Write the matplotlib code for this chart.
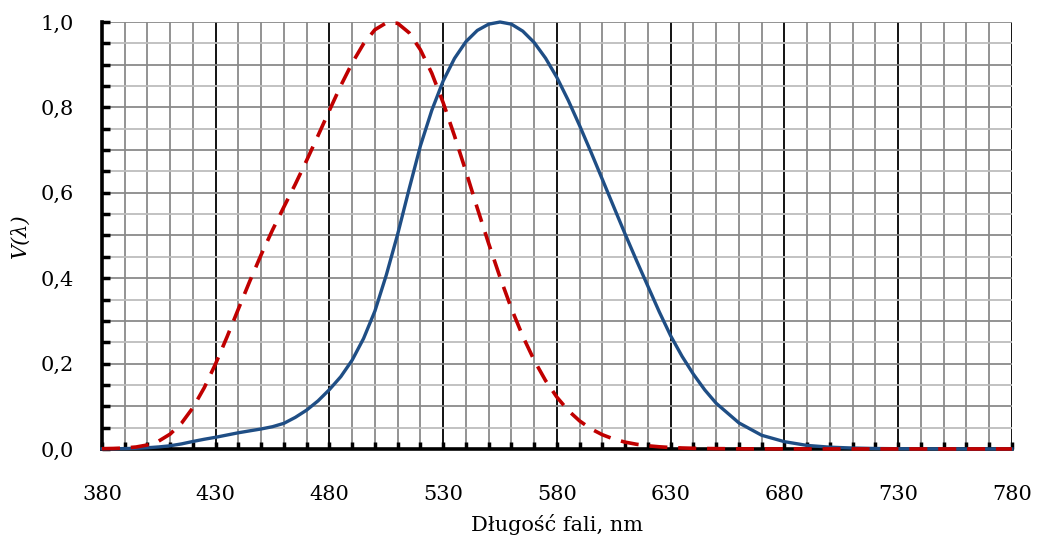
import numpy as np
import matplotlib.pyplot as plt
from matplotlib.ticker import MultipleLocator, FuncFormatter

# Długości fal (nm)
dlugosc = [380, 385, 390, 395, 400, 405, 410, 415, 420, 425, 430, 435, 440, 445,
           450, 455, 460, 465, 470, 475, 480, 485, 490, 495, 500, 505, 510, 515,
           520, 525, 530, 535, 540, 545, 550, 555, 560, 565, 570, 575, 580, 585,
           590, 595, 600, 605, 610, 615, 620, 625, 630, 635, 640, 645, 650,
           660, 670, 680, 690, 700, 710, 720, 730, 740, 750, 760, 770, 780]

# Widzenie fotopowe V(lambda) - linia ciągła
v_fotopowe = [0.0002, 0.0004, 0.0008, 0.0015, 0.0028, 0.0047, 0.0074, 0.0118,
              0.0175, 0.0227, 0.0273, 0.0326, 0.0379, 0.0424, 0.0468, 0.0521,
              0.060, 0.0739, 0.091, 0.1126, 0.139, 0.1693, 0.208, 0.2586,
              0.323, 0.4073, 0.503, 0.6082, 0.710, 0.7932, 0.862, 0.9149,
              0.954, 0.9803, 0.995, 1.000, 0.995, 0.9786, 0.952, 0.9154,
              0.870, 0.8163, 0.757, 0.6949, 0.631, 0.5668, 0.503, 0.4412,
              0.381, 0.321, 0.265, 0.217, 0.175, 0.1382, 0.107,
              0.061, 0.032, 0.017, 0.0082, 0.0041, 0.0021, 0.0010, 0.0005,
              0.00025, 0.00012, 0.00006, 0.00003, 0.000015]

# Widzenie skotopowe V'(lambda) - linia przerywana
v_skotopowe = [0.0006, 0.0011, 0.0022, 0.0045, 0.0093, 0.0185, 0.0348, 0.0604,
               0.0966, 0.1436, 0.1998, 0.2625, 0.3281, 0.3931, 0.455, 0.513,
               0.567, 0.620, 0.676, 0.734, 0.793, 0.851, 0.904, 0.949,
               0.982, 0.998, 0.997, 0.975, 0.935, 0.880, 0.811, 0.733,
               0.650, 0.564, 0.481, 0.402, 0.3288, 0.2639, 0.2076, 0.1602,
               0.1212, 0.0899, 0.0655, 0.0469, 0.0332, 0.0231, 0.0159, 0.0109,
               0.0074, 0.0050, 0.0033, 0.0022, 0.0015, 0.0010, 0.0007,
               0.0003, 0.00015, 0.00007, 0.00004, 0.00002, 0.00001, 0.000005,
               0.0000025, 0.0000014, 0.0000008, 0.0000004, 0.0000003, 0.0000002]

x_etykiety = [380, 430, 480, 530, 580, 630, 680, 730, 780]
y_etykiety = [0.0, 0.2, 0.4, 0.6, 0.8, 1.0]

plt.rcParams['font.family'] = ['DejaVu Serif']

fig = plt.figure(figsize=(10.4, 5.37), dpi=100)
ax = fig.add_axes([0.098, 0.164, 0.875, 0.795])

ax.set_xlim(380, 780)
ax.set_ylim(0, 1.0)

# Siatka
for x in range(390, 790, 10):
    if x in x_etykiety:
        ax.axvline(x, color='black', linewidth=1.3, zorder=1)
    else:
        ax.axvline(x, color='#8a8a8a', linewidth=1.3, zorder=1)
for i in range(1, 21):
    y = i * 0.05
    kolor = '#8a8a8a' if i % 2 == 0 else '#bdbdbd'
    ax.axhline(y, color=kolor, linewidth=1.3, zorder=1)

ax.plot(dlugosc, v_fotopowe, color='#1f4e85', linewidth=2.4, zorder=4, clip_on=False)
ax.plot(dlugosc, v_skotopowe, color='#c00000', linewidth=2.6, linestyle=(0, (5, 3)),
        zorder=5, clip_on=False)

ax.set_xticks(x_etykiety)
ax.set_yticks(y_etykiety)
ax.xaxis.set_minor_locator(MultipleLocator(10))
ax.yaxis.set_minor_locator(MultipleLocator(0.05))
ax.yaxis.set_major_formatter(FuncFormatter(lambda v, p: f'{v:.1f}'.replace('.', ',')))

ax.tick_params(axis='x', which='major', direction='in', length=5, width=2.5,
               labelsize=15, pad=26)
ax.tick_params(axis='x', which='minor', direction='in', length=5, width=2.5)
ax.tick_params(axis='y', which='major', direction='in', length=6, width=2.5,
               labelsize=15, pad=20)
ax.tick_params(axis='y', which='minor', direction='in', length=6, width=2.5)

for s in ['top', 'right']:
    ax.spines[s].set_visible(False)
ax.spines['left'].set_linewidth(2.6)
ax.spines['bottom'].set_linewidth(2.6)
ax.spines['left'].set_zorder(3)
ax.spines['bottom'].set_zorder(3)

ax.set_xlabel('Długość fali, nm', fontsize=15, labelpad=7)
ax.set_ylabel('V(λ)', fontsize=15, fontstyle='italic', labelpad=8)

plt.savefig('out.png', dpi=100)
